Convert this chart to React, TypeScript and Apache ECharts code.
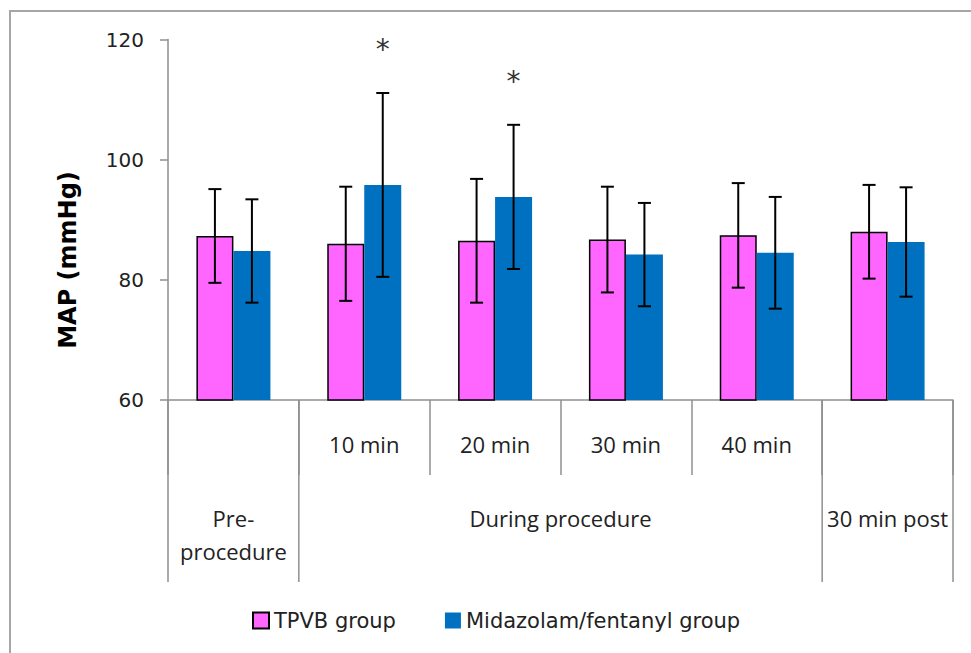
import React, { useEffect, useRef } from "react";
import * as echarts from "echarts";

const categories = ["Pre-procedure", "10 min", "20 min", "30 min", "40 min", "30 min post"];
const row1Labels = ["", "10 min", "20 min", "30 min", "40 min", ""];
const groupLabels = ["Pre-\nprocedure", "During procedure", "30 min post"];
const groupSpans = [[0, 1], [1, 5], [5, 6]];
const seriesNames = ["TPVB group", "Midazolam/fentanyl group"];
const tpvbMean = [87.3, 86.0, 86.5, 86.7, 87.4, 88.0];
const tpvbSD = [7.8, 9.5, 10.3, 8.8, 8.7, 7.8];
const midazMean = [84.8, 95.8, 93.8, 84.2, 84.5, 86.3];
const midazSD = [8.6, 15.3, 12.0, 8.6, 9.3, 9.1];
const significant = [false, true, true, false, false, false];
const yTicks = { min: 60, max: 120, interval: 20 };

const BAR_W = 37;
const GRAY = "#8f8f8f";

function errorSeries(name: string, means: number[], sds: number[], offset: number, stars: boolean[] | null) {
  return {
    type: "custom",
    name,
    silent: true,
    z: 5,
    data: means.map((m, i) => [i, m - sds[i], m + sds[i]]),
    encode: { x: 0, y: [1, 2] },
    renderItem: (params: any, api: any) => {
      const idx = api.value(0);
      const lo = api.coord([idx, api.value(1)]);
      const hi = api.coord([idx, api.value(2)]);
      const x = lo[0] + offset;
      const cap = 6.5;
      const st = { stroke: "#000", lineWidth: 2 };
      const children: any[] = [
        { type: "line", shape: { x1: x, y1: lo[1], x2: x, y2: hi[1] }, style: st },
        { type: "line", shape: { x1: x - cap, y1: hi[1], x2: x + cap, y2: hi[1] }, style: st },
        { type: "line", shape: { x1: x - cap, y1: lo[1], x2: x + cap, y2: lo[1] }, style: st },
      ];
      if (stars && stars[idx]) {
        children.push({
          type: "text",
          x,
          y: hi[1] - 43,
          style: { text: "*", fontSize: 28, fontFamily: "DejaVu Sans", fill: "#333", align: "center", verticalAlign: "middle" },
        });
      }
      return { type: "group", children };
    },
  };
}

export default function App() {
  const ref = useRef<HTMLDivElement>(null);
  useEffect(() => {
    if (!ref.current) return;
    const chart = echarts.init(ref.current, null, { renderer: "svg" });
    const option: any = {
      animation: false,
      grid: { left: 168, right: 18, top: 39.5, bottom: 253 },
      legend: {
        data: seriesNames,
        left: 247,
        top: 605,
        itemWidth: 16,
        itemHeight: 16,
        itemGap: 49,
        icon: "rect",
        textStyle: { fontFamily: "DejaVu Sans", fontSize: 21, color: "#222" },
      },
      xAxis: {
        type: "category",
        data: categories,
        axisLine: { lineStyle: { color: GRAY, width: 1.5 } },
        axisTick: { show: true, length: 75, interval: 0, alignWithLabel: false, lineStyle: { color: GRAY, width: 1.5 } },
        axisLabel: {
          interval: 0,
          margin: 33,
          formatter: (_v: string, i: number) => row1Labels[i],
          fontFamily: "Open Sans",
          fontSize: 22,
          color: "#222",
        },
      },
      yAxis: {
        type: "value",
        min: yTicks.min,
        max: yTicks.max,
        interval: yTicks.interval,
        axisLine: { show: true, lineStyle: { color: GRAY, width: 1.5 } },
        axisTick: { show: true, length: 8, lineStyle: { color: GRAY, width: 1.5 } },
        splitLine: { show: false },
        axisLabel: { margin: 24, fontFamily: "DejaVu Sans", fontSize: 20, color: "#222" },
      },
      series: [
        {
          type: "bar",
          name: seriesNames[0],
          data: tpvbMean,
          barWidth: BAR_W,
          barGap: "0%",
          itemStyle: { color: "#FF66FF", borderColor: "#000", borderWidth: 1.5 },
        },
        {
          type: "bar",
          name: seriesNames[1],
          data: midazMean,
          barWidth: BAR_W,
          barGap: "0%",
          itemStyle: { color: "#0070C0" },
        },
        errorSeries("tpvbErr", tpvbMean, tpvbSD, -BAR_W / 2, null),
        errorSeries("midazErr", midazMean, midazSD, BAR_W / 2, significant),
      ],
    };
    chart.setOption(option);

    const c0 = chart.convertToPixel({ xAxisIndex: 0 }, 0) as number;
    const c1 = chart.convertToPixel({ xAxisIndex: 0 }, 1) as number;
    const band = c1 - c0;
    const bx = (i: number) => c0 - band / 2 + i * band;
    const axisY = chart.convertToPixel({ yAxisIndex: 0 }, yTicks.min) as number;
    const dividerIdx = Array.from(new Set(groupSpans.flat()));
    const graphics: any[] = [
      {
        type: "rect",
        silent: true,
        z: -10,
        shape: { x: 10, y: 11, width: 1000, height: 700 },
        style: { fill: "none", stroke: "#a6a6a6", lineWidth: 2 },
      },
      {
        type: "text",
        x: 68,
        y: 260,
        rotation: Math.PI / 2,
        style: { text: "MAP (mmHg)", font: "bold 24px 'DejaVu Sans'", fill: "#000", align: "center", verticalAlign: "middle" },
      },
    ];
    dividerIdx.forEach((i) => {
      graphics.push({
        type: "line",
        silent: true,
        shape: { x1: bx(i), y1: axisY, x2: bx(i), y2: axisY + 182 },
        style: { stroke: GRAY, lineWidth: 1.5 },
      });
    });
    groupLabels.forEach((lab, g) => {
      const [s, e] = groupSpans[g];
      graphics.push({
        type: "text",
        x: (bx(s) + bx(e)) / 2,
        y: axisY + 101,
        style: { text: lab, fontFamily: "Open Sans", fontSize: 22, lineHeight: 33, fill: "#222", align: "center", verticalAlign: "top" },
      });
    });
    chart.setOption({ graphic: graphics });
    return () => chart.dispose();
  }, []);
  return <div ref={ref} style={{ position: "fixed", left: 0, top: 0, width: 971, height: 653, background: "#fff" }} />;
}
